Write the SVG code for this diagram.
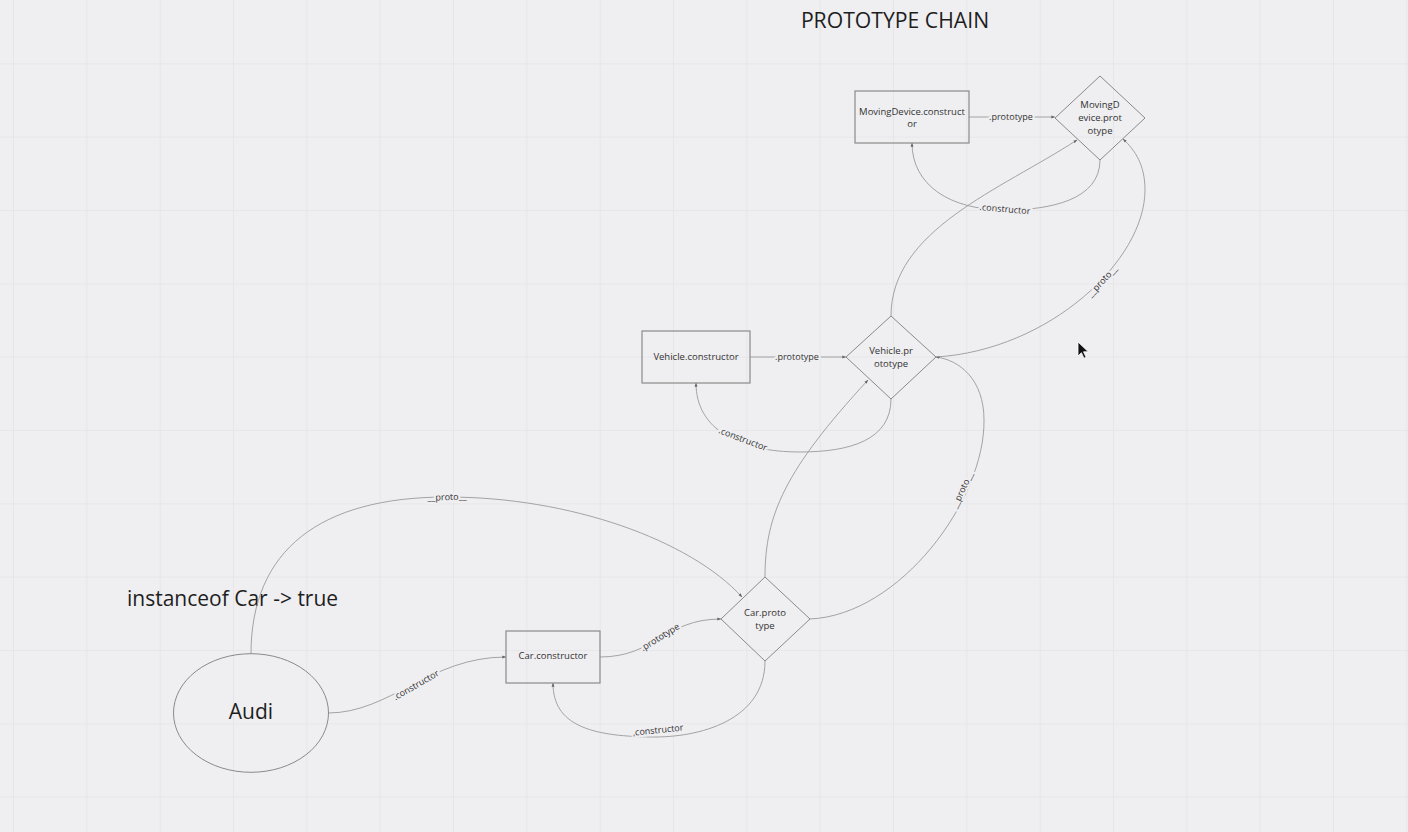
<svg xmlns="http://www.w3.org/2000/svg" width="1408" height="832" viewBox="0 0 1408 832">
<defs>
<pattern id="grid" patternUnits="userSpaceOnUse" x="13" y="63.333" width="73.333" height="73.333">
<path d="M0,0 V73.333 M0,0 H73.333" fill="none" stroke="#e0dfe4" stroke-width="1.2"/>
</pattern>
<marker id="arr" viewBox="0 0 6 6" refX="5.5" refY="3" markerWidth="4" markerHeight="4" orient="auto" markerUnits="userSpaceOnUse">
<path d="M0,0.8 L6,3 L0,5.2 z" fill="#666"/>
</marker>
<style>
.node{fill:none;stroke:#8a8a8a;stroke-width:1.2}
.dia{fill:none;stroke:#8a8a8a;stroke-width:1}
.nt{font-family:"Open Sans","Noto Sans",sans-serif;font-size:9.5px;fill:#333;text-anchor:middle}
.big{font-family:"Open Sans","Noto Sans",sans-serif;fill:#1e1e1e}
.edge{fill:none;stroke:#959595;stroke-width:0.85;marker-end:url(#arr)}
.lbl{font-family:"Open Sans","Noto Sans",sans-serif;font-size:9px;fill:#333;text-anchor:middle;paint-order:stroke fill;stroke:#efeef1;stroke-width:4.5px;stroke-linejoin:round}
</style>
</defs>
<rect width="1408" height="832" fill="#efeef1"/>
<rect width="1408" height="832" fill="url(#grid)"/>

<text class="big" x="895" y="28" font-size="21.2" text-anchor="middle">PROTOTYPE CHAIN</text>
<text class="big" x="127" y="606" font-size="21">instanceof Car -&gt; true</text>

<g id="connectors">
<path class="edge" d="M969,117 L1055,117"/>
<path class="edge" d="M750,357 L846,357"/>
<path class="edge" d="M328,713 C390,713 430,657 506,657"/>
<path class="edge" d="M600,657 C655,657 665,619 721,619"/>
<path class="edge" d="M765,661 C765,720 700,738 650,737 C590,736 553,725 553,683"/>
<path class="edge" d="M251,654 C251,550 320,497 447,497 C570,497 690,540 742,597"/>
<path class="edge" d="M765,577 C765,515 785,470 868,380"/>
<path class="edge" d="M810,619 C900,615 985,500 984,420 C984,380 960,360 936,357"/>
<path class="edge" d="M891,316 C891,230 1000,190 1077,140"/>
<path class="edge" d="M936,357 C1050,350 1145,260 1145,190 C1145,165 1135,150 1123,139"/>
<path class="edge" d="M1100,160 C1100,200 1050,210 1005,210 C950,210 912,185 912,143"/>
<path class="edge" d="M891,399 C891,440 850,452 800,452 C740,452 696,430 696,383"/>

<text class="lbl" x="1011" y="117" dy="0.35em">.prototype</text>
<text class="lbl" x="797" y="357" dy="0.35em">.prototype</text>
<text class="lbl" transform="translate(416,685) rotate(-30)" dy="0.35em">.constructor</text>
<text class="lbl" transform="translate(660,637) rotate(-32)" dy="0.35em">.prototype</text>
<text class="lbl" transform="translate(658,730) rotate(-6)" dy="0.35em">.constructor</text>
<text class="lbl" transform="translate(447,497) rotate(-2)" dy="0.35em">__proto__</text>
<text class="lbl" transform="translate(962,490) rotate(-65)" dy="0.35em">__proto__</text>
<text class="lbl" transform="translate(1102,281) rotate(-47)" dy="0.35em">__proto__</text>
<text class="lbl" transform="translate(1005,209) rotate(5)" dy="0.35em">.constructor</text>
<text class="lbl" transform="translate(743,439) rotate(21)" dy="0.35em">.constructor</text>
</g>

<g id="md-constructor">
<rect class="node" x="855" y="91" width="114" height="52"/>
<text class="nt" x="912" y="115">MovingDevice.construct</text>
<text class="nt" x="912" y="127">or</text>
</g>
<g id="md-prototype">
<polygon class="dia" points="1100,76 1145,118 1100,160 1055,118"/>
<text class="nt" x="1100" y="108">MovingD</text>
<text class="nt" x="1100" y="121">evice.prot</text>
<text class="nt" x="1100" y="134">otype</text>
</g>
<g id="vehicle-constructor">
<rect class="node" x="642" y="331" width="108" height="52"/>
<text class="nt" x="696" y="360">Vehicle.constructor</text>
</g>
<g id="vehicle-prototype">
<polygon class="dia" points="891,316 936,357 891,399 846,357"/>
<text class="nt" x="891" y="354">Vehicle.pr</text>
<text class="nt" x="891" y="367">ototype</text>
</g>
<g id="car-constructor">
<rect class="node" x="506" y="631" width="94" height="52"/>
<text class="nt" x="553" y="659">Car.constructor</text>
</g>
<g id="car-prototype">
<polygon class="dia" points="765,577 810,619 765,661 721,619"/>
<text class="nt" x="765" y="616">Car.proto</text>
<text class="nt" x="765" y="629">type</text>
</g>
<g id="audi">
<ellipse cx="251" cy="713" rx="77.5" ry="59.3" fill="none" stroke="#8a8a8a" stroke-width="1"/>
<text class="big" x="251" y="719" font-size="21" text-anchor="middle">Audi</text>
</g>

<path d="M1078,342 l0,14 l3.4,-3.3 l2.6,5.6 l2.1,-1 l-2.6,-5.5 l4.8,0 z" fill="#111" stroke="#fff" stroke-width="0.8"/>
</svg>
